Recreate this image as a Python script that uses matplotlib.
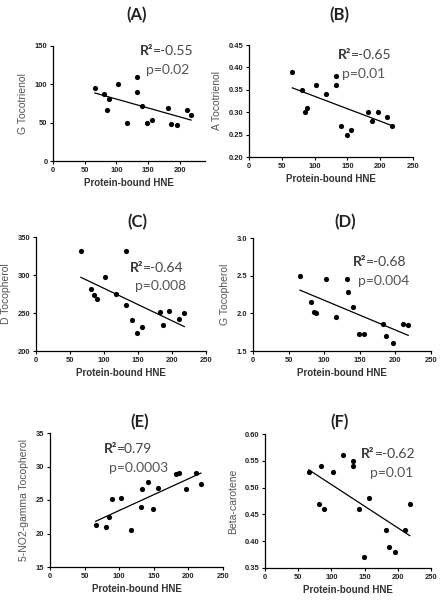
import matplotlib
matplotlib.use("Agg")
import matplotlib.pyplot as plt
import numpy as np

# Protein-bound HNE (same subjects in every panel)
hne = [66, 81, 85, 89, 102, 117, 132, 133, 141, 149, 156, 182, 187, 196, 211, 218]

g_tocotrienol = [95, 87, 66, 81, 100, 50, 90, 109, 72, 50, 53, 69, 48, 47, 66, 60]
a_tocotrienol = [0.39, 0.35, 0.30, 0.31, 0.36, 0.34, 0.38, 0.36, 0.27, 0.25, 0.26,
                 0.30, 0.28, 0.30, 0.29, 0.27]
d_tocopherol = [331, 281, 274, 269, 298, 275, 331, 260, 241, 224, 231, 251, 234, 252, 242, 250]
g_tocopherol = [2.50, 2.15, 2.02, 2.01, 2.45, 1.95, 2.45, 2.28, 2.08, 1.73, 1.73,
                1.86, 1.70, 1.61, 1.86, 1.85]
no2_tocopherol = [21.3, 20.9, 22.4, 25.2, 25.3, 20.5, 24.0, 26.7, 27.7, 23.7, 26.8,
                  28.9, 29.0, 26.6, 29.0, 27.4]
beta_carotene = [0.53, 0.47, 0.54, 0.46, 0.53, 0.56, 0.54, 0.55, 0.46, 0.37, 0.48,
                 0.42, 0.39, 0.38, 0.42, 0.47]

W, H = 444, 601

# (title, ylabel, y, ylim, yticks, xmax, xticks, r2, p, box px [l, r, t, b],
#  text pos, tick format, title px)
panels = [
    ("(A)", "G Tocotrienol", g_tocotrienol, (0, 150), [0, 50, 100, 150], 240,
     [0, 50, 100, 150, 200], "-0.55", "0.02", [53, 205, 46, 161],
     (0.57, 0.96, 0.61, 0.79), "{:.0f}", (137, 15)),
    ("(B)", "A Tocotrienol", a_tocotrienol, (0.20, 0.45),
     [0.20, 0.25, 0.30, 0.35, 0.40, 0.45], 250, [0, 50, 100, 150, 200, 250],
     "-0.65", "0.01", [249, 413, 45, 157], (0.54, 0.91, 0.57, 0.74), "{:.2f}", (339, 15)),
    ("(C)", "D Tocopherol", d_tocopherol, (200, 350), [200, 250, 300, 350], 250,
     [0, 50, 100, 150, 200, 250], "-0.64", "0.008", [36, 206, 237, 351],
     (0.55, 0.73, 0.58, 0.57), "{:.0f}", (137, 222)),
    ("(D)", "G Tocopherol", g_tocopherol, (1.5, 3.0), [1.5, 2.0, 2.5, 3.0], 250,
     [0, 50, 100, 150, 200, 250], "-0.68", "0.004", [253, 431, 238, 351],
     (0.56, 0.79, 0.59, 0.62), "{:.1f}", (345, 222)),
    ("(E)", "5-NO2-gamma Tocopherol", no2_tocopherol, (15, 35), [15, 20, 25, 30, 35], 250,
     [0, 50, 100, 150, 200, 250], "0.79", "0.0003", [50, 223, 433, 567],
     (0.31, 0.88, 0.34, 0.74), "{:.0f}", (140, 422)),
    ("(F)", "Beta-carotene", beta_carotene, (0.35, 0.60),
     [0.35, 0.40, 0.45, 0.50, 0.55, 0.60], 250, [0, 50, 100, 150, 200, 250],
     "-0.62", "0.01", [265, 431, 434, 568], (0.58, 0.85, 0.63, 0.71), "{:.2f}", (340, 422)),
]

fig = plt.figure(figsize=(W / 100, H / 100), dpi=100)
fig.patch.set_facecolor("white")

x = np.array(hne, dtype=float)
for (title, ylab, yv, ylim, yticks, xmax, xticks, r2, p, box, tp, fmt, tpos) in panels:
    l, r, t, b = box
    ax = fig.add_axes([l / W, 1 - b / H, (r - l) / W, (b - t) / H])
    y = np.array(yv, dtype=float)
    ax.scatter(x, y, s=14, color="black", zorder=3, linewidths=0)
    k, c = np.polyfit(x, y, 1)
    xx = np.array([x.min(), x.max()])
    ax.plot(xx, k * xx + c, color="black", lw=0.9)

    ax.set_xlim(0, xmax)
    ax.set_ylim(*ylim)
    ax.set_xticks(xticks)
    ax.set_yticks(yticks)
    ax.set_yticklabels([fmt.format(v) for v in yticks])
    for s in ["top", "right"]:
        ax.spines[s].set_visible(False)
    for s in ["left", "bottom"]:
        ax.spines[s].set_linewidth(0.9)
    ax.tick_params(direction="out", length=2.5, width=0.8, pad=1.5)
    for lab in ax.get_xticklabels() + ax.get_yticklabels():
        lab.set_fontsize(5.4)
        lab.set_fontweight("bold")
        lab.set_family("Liberation Sans")
        lab.set_color("#222222")

    ax.set_xlabel("Protein-bound HNE", fontsize=7, fontweight="bold",
                  family="Liberation Sans", color="#333333", labelpad=3)
    ax.set_ylabel(ylab, fontsize=7.5, family="Liberation Sans", color="#555555",
                  labelpad=5)
    fig.text(tpos[0] / W, 1 - tpos[1] / H, title, fontsize=12, fontweight="bold",
             family="Lato", color="#222222", ha="center", va="center")

    rt = ax.text(tp[0], tp[1], "R²", transform=ax.transAxes, fontsize=10,
                 fontweight="bold", family="Lato", color="#333333",
                 ha="left", va="center")
    ax.annotate("=" + r2, xy=(1, 0.5), xycoords=rt, fontsize=10, family="Lato",
                color="#444444", ha="left", va="center")
    ax.text(tp[2], tp[3], "p=" + p, transform=ax.transAxes, fontsize=10,
            family="Lato", color="#555555", ha="left", va="center")

fig.savefig("out.png", dpi=100, facecolor="white")
